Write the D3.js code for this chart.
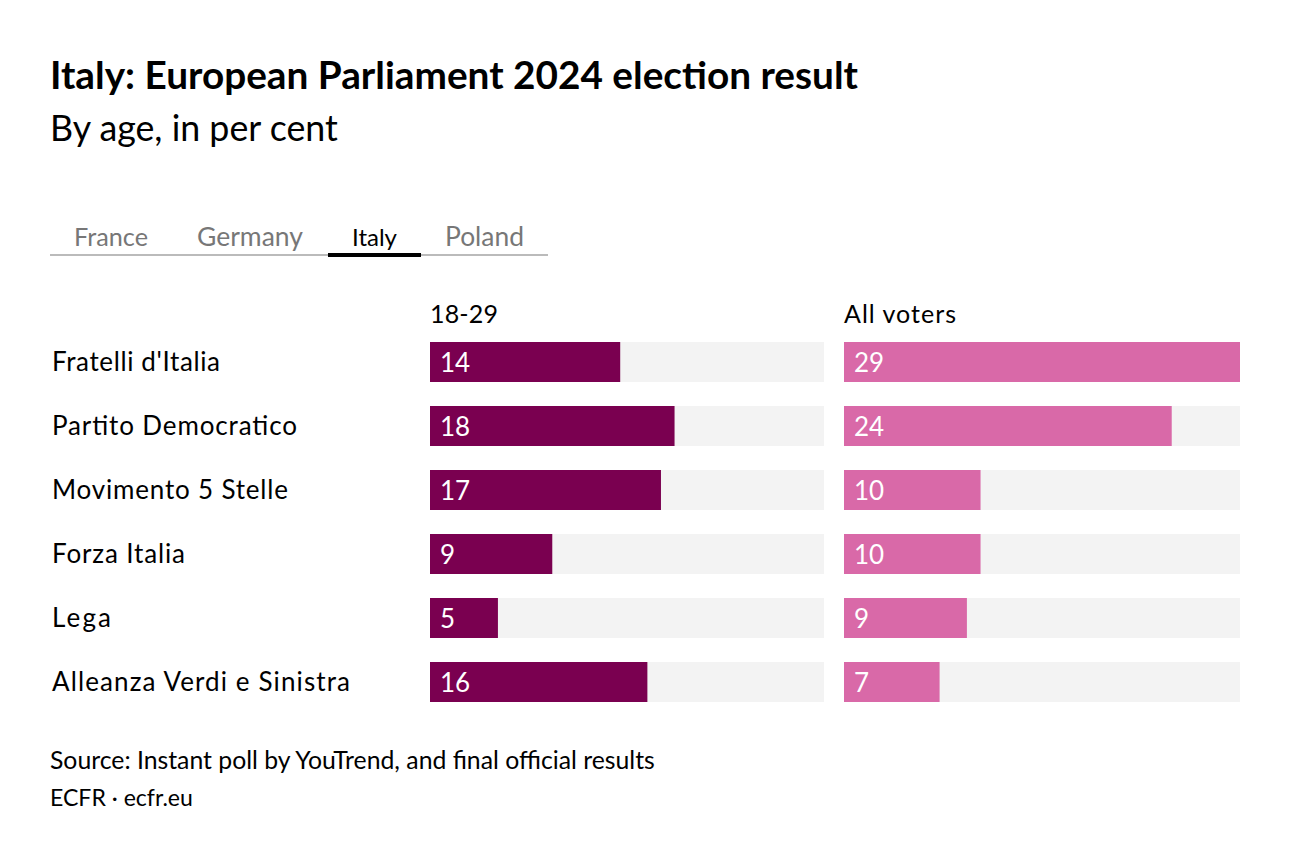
<!DOCTYPE html>
<html><head><meta charset="utf-8">
<script src="https://cdn.jsdelivr.net/npm/d3@7"></script>
<style>body{margin:0;background:#fff}svg{display:block}text{font-family:Lato,"Open Sans",sans-serif}</style>
</head><body>
<svg id="c" width="1300" height="864"></svg>
<script>
const parties = ["Fratelli d'Italia","Partito Democratico","Movimento 5 Stelle","Forza Italia","Lega","Alleanza Verdi e Sinistra"];
const youth = [14,18,17,9,5,16];
const allVoters = [29,24,10,10,9,7];
const panelTitles = ["18-29","All voters"];
const tabs = ["France","Germany","Italy","Poland"];
const activeTab = "Italy";
const maxValue = 29;

const svg = d3.select("#c");
svg.append("rect").attr("width",1300).attr("height",864).attr("fill","#fff");

function fit(sel, w){
  const n = sel.node(); const cur = n.getComputedTextLength();
  const fs = parseFloat(sel.attr("font-size"));
  sel.attr("font-size", fs*w/cur);
  return sel;
}
function spread(sel, w){
  sel.attr("textLength", w).attr("lengthAdjust","spacing");
  return sel;
}

fit(svg.append("text").attr("x",50).attr("y",89).attr("font-size",32).attr("font-weight",700).attr("fill","#000")
  .text("Italy: European Parliament 2024 election result"), 808);
fit(svg.append("text").attr("x",50).attr("y",141).attr("font-size",30).attr("font-weight",400).attr("fill","#000")
  .text("By age, in per cent"), 288);

// tabs
const tabX = [74,197,352,445], tabW=[74,106,45,79];
svg.append("line").attr("x1",50).attr("x2",548).attr("y1",255).attr("y2",255).attr("stroke","#bbb").attr("stroke-width",2);
tabs.forEach((t,i)=>{
  const tx = svg.append("text").attr("x",tabX[i]).attr("y",246).attr("font-size",24).attr("font-weight",400)
    .attr("fill", t===activeTab?"#000":"#777").text(t);
  fit(tx, tabW[i]);
  if(t===activeTab){
    svg.append("rect").attr("x",tabX[i]-24).attr("y",253).attr("width",tabW[i]+48).attr("height",4).attr("fill","#000");
  }
});

const yb = d3.scaleBand().domain(parties).range([342, 702]).paddingInner(0.375).paddingOuter(0);

const panels = [
  {x0:430, w:394, data:youth, color:"#7a0050", title:panelTitles[0]},
  {x0:844, w:396, data:allVoters, color:"#d969a8", title:panelTitles[1]}
];

const labelW = [168,245,236,133,59,298];
parties.forEach((p,i)=>{
  const t = svg.append("text").attr("x",52).attr("y",yb(p)+29).attr("font-size",26).attr("fill","#000").text(p);
  spread(t, labelW[i]);
});

const titleW = [68,112];
panels.forEach((pn,k)=>{
  const x = d3.scaleLinear().domain([0,maxValue]).range([pn.x0, pn.x0+pn.w]);
  spread(svg.append("text").attr("x",pn.x0).attr("y",323).attr("font-size",25).attr("fill","#000").text(pn.title), titleW[k]);
  const g = svg.append("g");
  g.selectAll("rect.bg").data(parties).join("rect").attr("class","bg")
    .attr("x",x(0)).attr("y",d=>yb(d)).attr("width",x(maxValue)-x(0)).attr("height",yb.bandwidth()).attr("fill","#f3f3f3");
  g.selectAll("rect.bar").data(pn.data).join("rect").attr("class","bar")
    .attr("x",x(0)).attr("y",(d,i)=>yb(parties[i])).attr("width",d=>x(d)-x(0)).attr("height",yb.bandwidth()).attr("fill",pn.color);
  g.selectAll("text.v").data(pn.data).join("text").attr("class","v")
    .attr("x",x(0)+10).attr("y",(d,i)=>yb(parties[i])+30).attr("font-size",26).attr("fill","#fff").text(d=>d);
});

fit(svg.append("text").attr("x",50).attr("y",769).attr("font-size",22).attr("fill","#000")
  .text("Source: Instant poll by YouTrend, and final official results"), 605);
fit(svg.append("text").attr("x",50).attr("y",806).attr("font-size",22).attr("fill","#000")
  .text("ECFR · ecfr.eu"), 143);
</script>
</body></html>
